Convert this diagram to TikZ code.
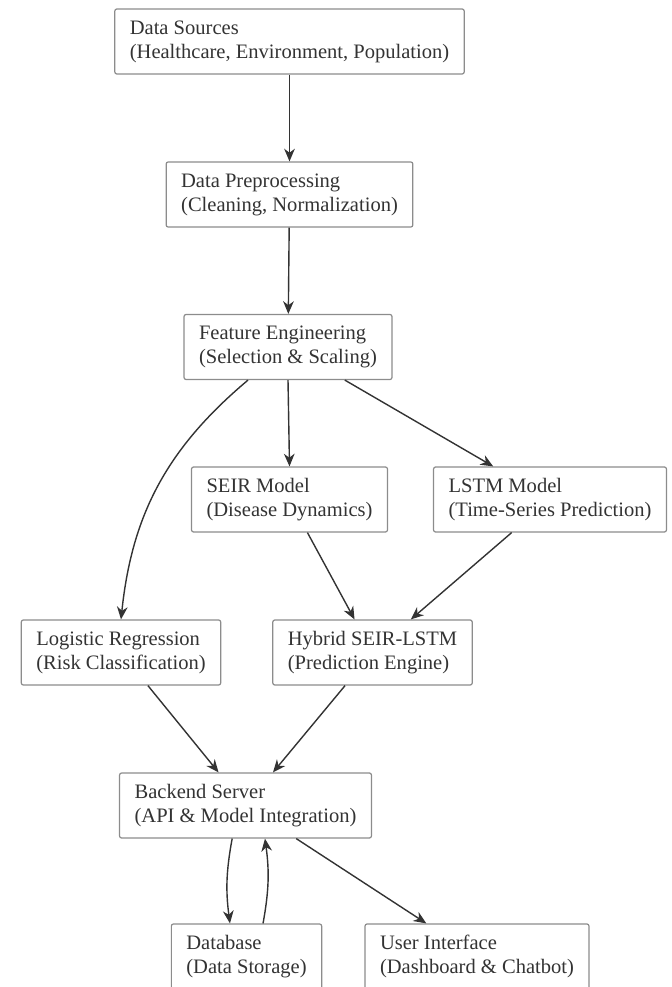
\documentclass[tikz,border=0pt]{standalone}
\usepackage{fontspec}
\setmainfont{Liberation Serif}
\usetikzlibrary{positioning,calc,arrows.meta}
\definecolor{boxline}{HTML}{8C8C8C}
\definecolor{ink}{HTML}{333333}

\begin{document}
\begin{tikzpicture}[x=0.75pt, y=-0.75pt,
		stage/.style={shape=rectangle, draw=boxline, line width=0.9pt, rounded corners=1.5pt, fill=white,
			align=left, text=ink, inner xsep=11.25pt, inner ysep=0pt, minimum height=48.75pt,
			font=\fontsize{15.4}{18}\selectfont},
		flow/.style={draw=ink, line width=1.05pt, -{Stealth[length=9.5pt, width=8pt, inset=3pt]}}]
		\useasboundingbox (0, 0) rectangle (671, 987);
		\clip (0, 0) rectangle (671, 987);

		\node[stage] (src) at (289.5, 41.5) {Data Sources\\(Healthcare, Environment, Population)};
		\node[stage] (prep) at (289.5, 194.5) {Data Preprocessing\\(Cleaning, Normalization)};
		\node[stage] (feat) at (288, 347) {Feature Engineering\\(Selection \& Scaling)};
		\node[stage] (seir) at (289.5, 499.5) {SEIR Model\\(Disease Dynamics)};
		\node[stage] (lstm) at (550, 499.5) {LSTM Model\\(Time-Series Prediction)};
		\node[stage] (logit) at (121, 652.5) {Logistic Regression\\(Risk Classification)};
		\node[stage] (hybrid) at (372.5, 652.5) {Hybrid SEIR-LSTM\\(Prediction Engine)};
		\node[stage] (backend) at (245.5, 805.5) {Backend Server\\(API \& Model Integration)};
		\node[stage] (db) at (246.5, 956.5) {Database\\(Data Storage)};
		\node[stage] (ui) at (477, 956.5) {User Interface\\(Dashboard \& Chatbot)};

		\draw[flow] (src) -- (prep);
		\draw[flow] (prep) -- (feat);
		\draw[flow] (feat.south) -- (seir.north);
		\draw[flow] (feat) -- (lstm);
		\draw[flow] ([xshift=-30pt]feat.south) to[bend right=22] (logit.north);
		\draw[flow] (seir) -- (hybrid);
		\draw[flow] (lstm) -- (hybrid);
		\draw[flow] (logit) -- (backend);
		\draw[flow] (hybrid) -- (backend);
		\draw[flow] ([xshift=-10pt]backend.south) to[bend right=9] ([xshift=-12.4pt]db.north);
		\draw[flow] ([xshift=12.4pt]db.north) to[bend right=9] ([xshift=14.6pt]backend.south);
		\draw[flow] (backend) -- (ui);
	\end{tikzpicture}
\end{document}
